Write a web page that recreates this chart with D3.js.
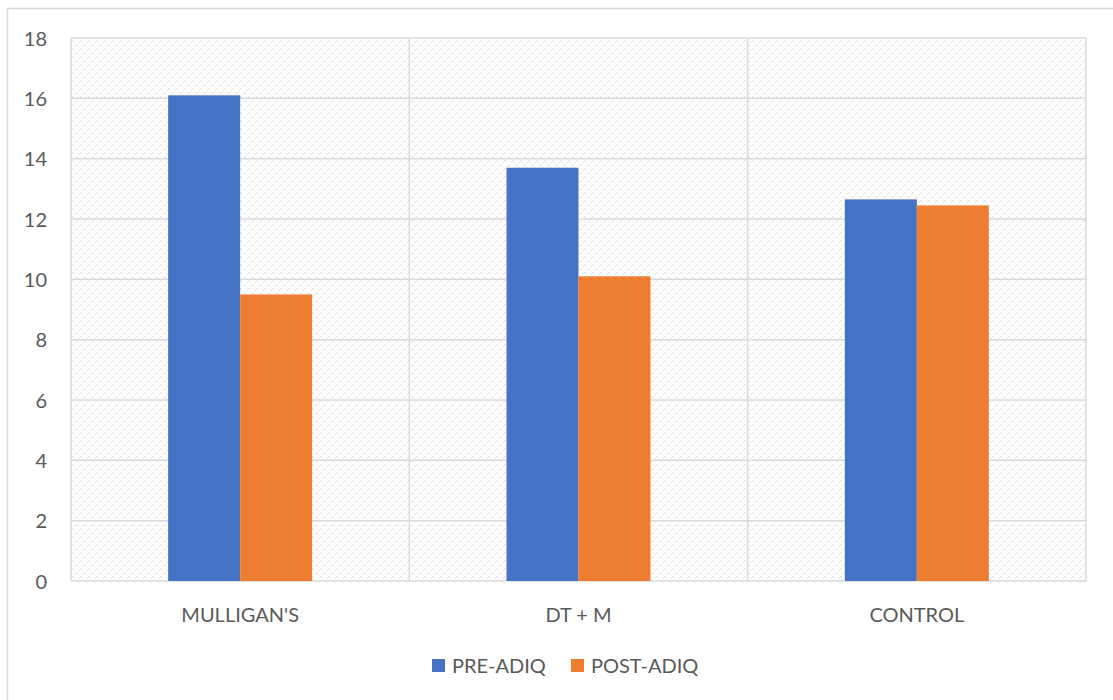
<!DOCTYPE html>
<html>
<head>
<meta charset="utf-8">
<script src="https://cdn.jsdelivr.net/npm/d3@7"></script>
<style>
  html, body { margin: 0; padding: 0; background: #ffffff; }
  svg { display: block; }
  text { font-family: Lato, "Open Sans", sans-serif; fill: #595959; }
</style>
</head>
<body>
<svg id="chart" width="1113" height="700"></svg>
<script>
// Chart data
const categories = ["MULLIGAN'S", "DT + M", "CONTROL"];
const seriesNames = ["PRE-ADIQ", "POST-ADIQ"];
const preValues = [16.1, 13.7, 12.65];
const postValues = [9.5, 10.1, 12.45];
const yTicks = [0, 2, 4, 6, 8, 10, 12, 14, 16, 18];
const seriesColors = ["#4472c4", "#ed7d31"];

const svg = d3.select("#chart");
const W = 1113, H = 700;
const plot = { left: 71, top: 38, right: 1086, bottom: 581 };
const FONT = "Lato, 'Open Sans', sans-serif";

// textured fill for the plot area
const defs = svg.append("defs");
const pat = defs.append("pattern")
  .attr("id", "tex")
  .attr("patternUnits", "userSpaceOnUse")
  .attr("width", 8).attr("height", 8);
pat.append("rect").attr("width", 8).attr("height", 8).attr("fill", "#ffffff");
[[0,0,"#d4d4d4"],[1,1,"#dcdcdc"],[4,4,"#d4d4d4"],[5,5,"#dcdcdc"],
 [2,5,"#e8e8e8"],[6,1,"#e8e8e8"],[3,6,"#e2e2e2"],[7,2,"#e2e2e2"]].forEach(([x, y, c]) => {
  pat.append("rect").attr("x", x).attr("y", y).attr("width", 1).attr("height", 1).attr("fill", c);
});

// chart frame
svg.append("rect")
  .attr("x", 7.5).attr("y", 8.5)
  .attr("width", W + 20).attr("height", H + 20)
  .attr("fill", "#ffffff").attr("stroke", "#d9d9d9").attr("stroke-width", 1.5);

const x0 = d3.scaleBand().domain(categories).range([plot.left, plot.right]).paddingInner(0).paddingOuter(0);
const y = d3.scaleLinear().domain([0, 18]).range([plot.bottom, plot.top]);

// plot area background
svg.append("rect")
  .attr("x", plot.left).attr("y", plot.top)
  .attr("width", plot.right - plot.left).attr("height", plot.bottom - plot.top)
  .attr("fill", "url(#tex)");

// horizontal gridlines
svg.append("g").selectAll("line").data(yTicks).join("line")
  .attr("x1", plot.left).attr("x2", plot.right)
  .attr("y1", d => y(d)).attr("y2", d => y(d))
  .attr("stroke", "#d9d9d9").attr("stroke-width", 1.5);

// vertical category separators and plot border
const vLines = [plot.left, ...categories.map(c => x0(c) + x0.bandwidth())];
svg.append("g").selectAll("line").data(vLines).join("line")
  .attr("x1", d => d).attr("x2", d => d)
  .attr("y1", plot.top).attr("y2", plot.bottom)
  .attr("stroke", "#d9d9d9").attr("stroke-width", 1.5);

// y-axis labels
const yAxis = d3.axisLeft(y).tickValues(yTicks).tickSize(0).tickPadding(0);
const yg = svg.append("g").attr("transform", `translate(${47},0)`).call(yAxis);
yg.select(".domain").remove();
yg.selectAll("text").style("font-size", "20px").attr("dy", "0.35em").style("fill", "#595959")
  .style("font-family", FONT);

// bars
const barW = 72;
const x1 = d3.scaleBand().domain(seriesNames).range([0, barW * 2]);
const rows = categories.map((c, i) => ({ c, vals: [preValues[i], postValues[i]] }));
const groups = svg.append("g").selectAll("g").data(rows).join("g")
  .attr("transform", d => `translate(${x0(d.c) + (x0.bandwidth() - barW * 2) / 2},0)`);
groups.selectAll("rect").data(d => d.vals.map((v, j) => ({ v, j }))).join("rect")
  .attr("x", d => x1(seriesNames[d.j]))
  .attr("width", x1.bandwidth())
  .attr("y", d => y(d.v))
  .attr("height", d => y(0) - y(d.v))
  .attr("fill", d => seriesColors[d.j]);

// category labels
const xAxis = d3.axisBottom(x0).tickSize(0).tickPadding(0);
const xg = svg.append("g").attr("transform", `translate(0,${615})`).call(xAxis);
xg.select(".domain").remove();
xg.selectAll("text").style("font-size", "20px").attr("dy", "0.35em").attr("y", 0)
  .style("fill", "#595959").style("font-family", FONT);

// legend
const legendItems = [{ name: seriesNames[0], x: 432 }, { name: seriesNames[1], x: 571 }];
const lg = svg.append("g").selectAll("g").data(legendItems).join("g")
  .attr("transform", d => `translate(${d.x},659)`);
lg.append("rect").attr("width", 13).attr("height", 13).attr("fill", (d, i) => seriesColors[i]);
lg.append("text").attr("x", 20).attr("y", 7).attr("dy", "0.35em")
  .style("font-size", "20px").text(d => d.name);
</script>
</body>
</html>
